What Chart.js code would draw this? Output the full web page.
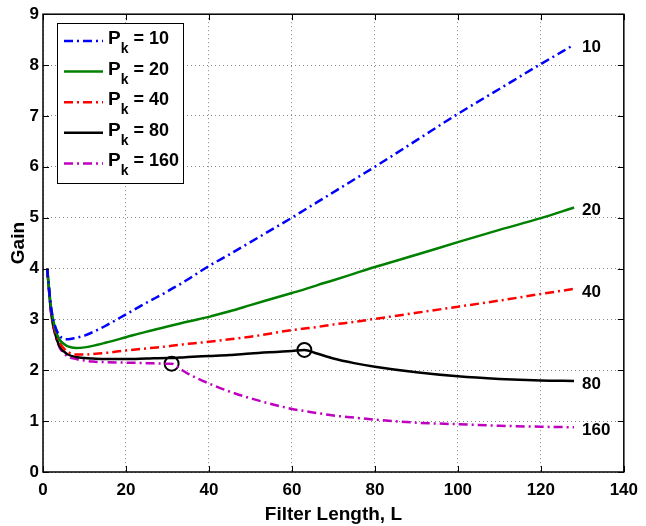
<!DOCTYPE html>
<html>
<head>
    <meta charset="UTF-8">
    <title>Gain vs Filter Length</title>
    <script src="https://cdn.jsdelivr.net/npm/chart.js"></script>
    <style>
        body {
            margin: 0;
            padding: 0;
            background-color: #FFFFFF;
        }
        .chart-container {
            width: 646px;
            height: 526px;
        }
    </style>
</head>
<body>
<div class="chart-container">
    <canvas id="gain-chart"></canvas>
</div>

<script>
    // Filter lengths (x) shared by all curves
    const filterLength = [1, 2, 3, 4, 5, 6, 8, 10, 12, 15, 20, 25, 30, 31, 33, 35, 40, 45, 50, 60, 63, 66, 70, 75, 80, 90, 100, 110, 120, 128];

    // Gain for each P_k
    const gainP10 = [4.0, 3.2, 2.85, 2.68, 2.62, 2.61, 2.64, 2.68, 2.75, 2.87, 3.1, 3.33, 3.55, 3.6, 3.69, 3.79, 4.05, 4.28, 4.52, 5.0, 5.15, 5.3, 5.5, 5.75, 6.0, 6.52, 7.04, 7.53, 8.02, 8.4];
    const gainP20 = [4.0, 3.2, 2.8, 2.6, 2.52, 2.47, 2.44, 2.45, 2.48, 2.54, 2.65, 2.76, 2.86, 2.88, 2.92, 2.96, 3.05, 3.16, 3.28, 3.52, 3.59, 3.67, 3.77, 3.9, 4.03, 4.27, 4.52, 4.76, 4.99, 5.2];
    const gainP40 = [4.0, 3.15, 2.75, 2.55, 2.43, 2.36, 2.31, 2.31, 2.32, 2.34, 2.39, 2.43, 2.47, 2.48, 2.5, 2.52, 2.56, 2.61, 2.66, 2.79, 2.82, 2.85, 2.9, 2.95, 3.01, 3.13, 3.25, 3.37, 3.5, 3.6];
    const gainP80 = [4.0, 3.1, 2.7, 2.47, 2.37, 2.31, 2.26, 2.24, 2.23, 2.22, 2.22, 2.23, 2.24, 2.24, 2.25, 2.26, 2.28, 2.3, 2.33, 2.38, 2.4, 2.33, 2.23, 2.14, 2.07, 1.96, 1.88, 1.83, 1.8, 1.79];
    const gainP160 = [4.0, 3.1, 2.68, 2.45, 2.34, 2.27, 2.22, 2.19, 2.17, 2.16, 2.15, 2.14, 2.13, 2.13, 2.03, 1.93, 1.74, 1.58, 1.45, 1.24, 1.2, 1.16, 1.11, 1.07, 1.03, 0.97, 0.94, 0.91, 0.89, 0.88];

    // Circled break points
    const markLength = [31, 63];
    const markGain = [2.13, 2.4];

    const pkValues = ['10', '20', '40', '80', '160'];
    const xTicks = [0, 20, 40, 60, 80, 100, 120, 140];
    const yTicks = [0, 1, 2, 3, 4, 5, 6, 7, 8, 9];

    const FONT = '"Liberation Sans", Arial, sans-serif';
    const dashDot = [9, 4, 2, 4];

    function toPoints(xs, ys) {
        return xs.map((x, i) => ({ x: x, y: ys[i] }));
    }

    const series = [
        { data: gainP10, color: '#0000FF', dash: dashDot },
        { data: gainP20, color: '#008000', dash: [] },
        { data: gainP40, color: '#FF0000', dash: dashDot },
        { data: gainP80, color: '#000000', dash: [] },
        { data: gainP160, color: '#BF00BF', dash: dashDot }
    ];

    const datasets = series.map((s, i) => ({
        label: 'Pk = ' + pkValues[i],
        data: toPoints(filterLength, s.data),
        borderColor: s.color,
        borderDash: s.dash,
        borderWidth: 2.5,
        pointRadius: 0,
        cubicInterpolationMode: 'monotone',
        fill: false
    }));

    datasets.push({
        label: 'marks',
        data: toPoints(markLength, markGain),
        showLine: false,
        pointStyle: 'circle',
        pointRadius: 7,
        pointBorderWidth: 2,
        pointBorderColor: '#000000',
        pointBackgroundColor: 'rgba(0,0,0,0)'
    });

    // Frame with inward ticks, end labels and legend
    const decorPlugin = {
        id: 'decor',
        afterDraw(chart) {
            const ctx = chart.ctx;
            const a = chart.chartArea;
            const xs = chart.scales.x;
            const ys = chart.scales.y;
            ctx.save();

            // frame
            ctx.strokeStyle = '#000';
            ctx.lineWidth = 1.5;
            ctx.setLineDash([]);
            ctx.strokeRect(a.left, a.top, a.right - a.left, a.bottom - a.top);

            // inward ticks
            ctx.lineWidth = 1;
            ctx.beginPath();
            xTicks.forEach(v => {
                const px = Math.round(xs.getPixelForValue(v)) + 0.5;
                ctx.moveTo(px, a.bottom); ctx.lineTo(px, a.bottom - 6);
                ctx.moveTo(px, a.top); ctx.lineTo(px, a.top + 6);
            });
            yTicks.forEach(v => {
                const py = Math.round(ys.getPixelForValue(v)) + 0.5;
                ctx.moveTo(a.left, py); ctx.lineTo(a.left + 6, py);
                ctx.moveTo(a.right, py); ctx.lineTo(a.right - 6, py);
            });
            ctx.stroke();

            // labels at the end of each curve
            ctx.fillStyle = '#000';
            ctx.font = 'bold 17px ' + FONT;
            ctx.textAlign = 'left';
            ctx.textBaseline = 'middle';
            series.forEach((s, i) => {
                const last = s.data.length - 1;
                const px = xs.getPixelForValue(filterLength[last]);
                const py = ys.getPixelForValue(s.data[last]);
                ctx.fillText(pkValues[i], px + 8, py + 3);
            });

            // legend
            const bx = 57, by = 23, bw = 126, bh = 160;
            ctx.fillStyle = '#FFF';
            ctx.fillRect(bx, by, bw, bh);
            ctx.strokeStyle = '#000';
            ctx.lineWidth = 1;
            ctx.strokeRect(bx + 0.5, by + 0.5, bw, bh);
            series.forEach((s, i) => {
                const y = 41 + i * 30.6;
                ctx.strokeStyle = s.color;
                ctx.lineWidth = 2.5;
                ctx.setLineDash(s.dash);
                ctx.beginPath();
                ctx.moveTo(64, y);
                ctx.lineTo(103, y);
                ctx.stroke();
                ctx.setLineDash([]);

                ctx.fillStyle = '#000';
                ctx.textBaseline = 'alphabetic';
                ctx.font = 'bold 19px ' + FONT;
                ctx.fillText('P', 108, y + 3);
                let w = ctx.measureText('P').width;
                ctx.font = 'bold 14px ' + FONT;
                ctx.fillText('k', 108 + w, y + 12);
                w += ctx.measureText('k').width;
                ctx.font = 'bold 18px ' + FONT;
                ctx.fillText(' = ' + pkValues[i], 108 + w, y + 3);
            });
            ctx.restore();
        }
    };

    const ctx = document.getElementById('gain-chart').getContext('2d');
    new Chart(ctx, {
        type: 'line',
        data: { datasets: datasets },
        options: {
            responsive: true,
            maintainAspectRatio: false,
            animation: false,
            layout: { padding: { top: 13, right: 15, left: 0, bottom: 0 } },
            plugins: {
                legend: { display: false },
                tooltip: { enabled: false }
            },
            scales: {
                x: {
                    type: 'linear',
                    min: 0,
                    max: 140,
                    afterFit: scale => { scale.height = 54; },
                    afterBuildTicks: scale => { scale.ticks = xTicks.map(v => ({ value: v })); },
                    ticks: {
                        color: '#000',
                        font: { family: FONT, size: 17, weight: 'bold' },
                        padding: 8,
                        maxRotation: 0
                    },
                    grid: { color: '#888', drawTicks: false, tickLength: 0, lineWidth: 1 },
                    border: { display: false, dash: [1, 3] },
                    title: {
                        display: true,
                        text: 'Filter Length, L',
                        color: '#000',
                        font: { family: FONT, size: 19, weight: 'bold' },
                        padding: { top: 2, bottom: 0 }
                    }
                },
                y: {
                    min: 0,
                    max: 9,
                    afterFit: scale => { scale.width = 43; },
                    afterBuildTicks: scale => { scale.ticks = yTicks.map(v => ({ value: v })); },
                    ticks: {
                        color: '#000',
                        font: { family: FONT, size: 17, weight: 'bold' },
                        padding: 4
                    },
                    grid: { color: '#888', drawTicks: false, tickLength: 0, lineWidth: 1 },
                    border: { display: false, dash: [1, 3] },
                    title: {
                        display: true,
                        text: 'Gain',
                        color: '#000',
                        font: { family: FONT, size: 19, weight: 'bold' },
                        padding: { top: 7, bottom: 0 }
                    }
                }
            }
        },
        plugins: [decorPlugin]
    });
</script>
</body>
</html>
